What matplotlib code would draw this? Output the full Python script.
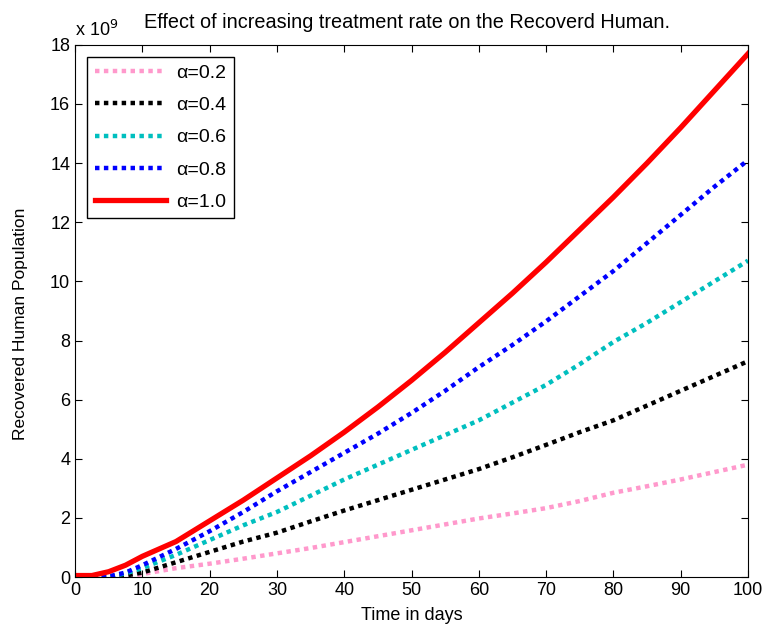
from matplotlib import pyplot as plt
import numpy as np

plt.rcParams['font.family'] = ['Liberation Sans', 'DejaVu Sans']

days = [0, 2.5, 5, 7.5, 10, 15, 20, 25, 30, 35, 40, 45, 50, 55, 60,
        65, 70, 75, 80, 85, 90, 95, 100]

# recovered humans (x 1e9)
rec_02 = [0, 0, 0, 0, 0.1, 0.3, 0.45, 0.62, 0.8, 0.98, 1.18, 1.38, 1.58,
          1.78, 1.98, 2.15, 2.33, 2.57, 2.85, 3.07, 3.3, 3.55, 3.8]
rec_04 = [0, 0, 0, 0.05, 0.15, 0.5, 0.85, 1.2, 1.5, 1.88, 2.25, 2.6, 2.95,
          3.3, 3.65, 4.05, 4.47, 4.9, 5.3, 5.8, 6.3, 6.8, 7.3]
rec_06 = [0, 0, 0.01, 0.12, 0.3, 0.75, 1.25, 1.75, 2.2, 2.75, 3.3, 3.8,
          4.3, 4.8, 5.3, 5.9, 6.5, 7.2, 7.95, 8.6, 9.3, 10.0, 10.7]
rec_08 = [0, 0, 0.02, 0.15, 0.4, 0.95, 1.55, 2.2, 2.9, 3.55, 4.2, 4.85,
          5.55, 6.3, 7.1, 7.85, 8.65, 9.5, 10.35, 11.3, 12.25, 13.2, 14.1]
rec_10 = [0.05, 0.05, 0.18, 0.4, 0.7, 1.2, 1.9, 2.6, 3.35, 4.1, 4.9, 5.75,
          6.65, 7.6, 8.6, 9.6, 10.65, 11.75, 12.85, 14.0, 15.2, 16.45, 17.7]

labels = ['\u03b1=0.2', '\u03b1=0.4', '\u03b1=0.6', '\u03b1=0.8', '\u03b1=1.0']
colors = ['#ff99cc', 'k', '#00bfbf', 'b', 'r']

fig = plt.figure(figsize=(7.66, 6.32), dpi=100)
ax = fig.add_axes([0.098, 0.087, 0.8785, 0.842])

series = [rec_02, rec_04, rec_06, rec_08]
for s, c, l in zip(series, colors[:4], labels[:4]):
    ax.plot(days, np.array(s) * 1e9, color=c, lw=3.2, ls=(0, (1, 1)), label=l)
ax.plot(days, np.array(rec_10) * 1e9, color=colors[4], lw=3.8, label=labels[4])

ax.set_xlim(0, 100)
ax.set_ylim(0, 18e9)
ax.set_xticks(np.arange(0, 101, 10))
ax.set_yticks(np.arange(0, 19, 2) * 1e9)
ax.set_yticklabels([str(v) for v in range(0, 19, 2)])
ax.tick_params(direction='in', top=True, right=True, labelsize=13, length=5)
ax.text(0.0, 1.01, 'x 10$^{9}$', transform=ax.transAxes, fontsize=13,
        ha='left', va='bottom')

ax.set_xlabel('Time in days', fontsize=13, labelpad=6)
ax.set_ylabel('Recovered Human Population', fontsize=12.5)
ax.yaxis.set_label_coords(-0.07, 0.475)
ax.set_title('Effect of increasing treatment rate on the Recoverd Human.',
             fontsize=14.3, pad=12, x=0.494)

leg = ax.legend(loc='upper left', fontsize=14, fancybox=False, framealpha=1,
                edgecolor='k', handlelength=3.7, labelspacing=0.75,
                borderaxespad=0.6, handletextpad=0.5)
leg.get_frame().set_linewidth(1.0)

plt.savefig('out.png', dpi=100)
